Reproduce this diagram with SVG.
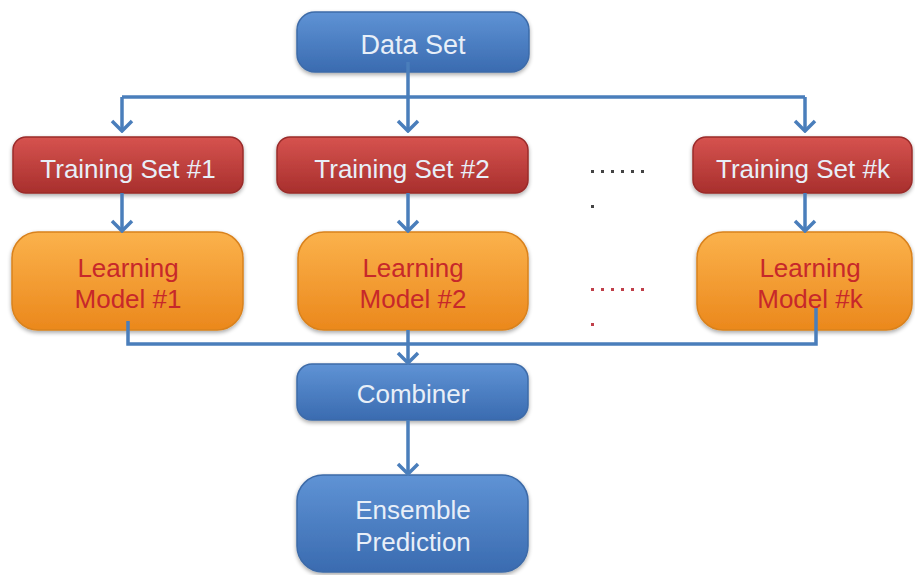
<svg xmlns="http://www.w3.org/2000/svg" width="915" height="575" viewBox="0 0 915 575">
  <defs>
    <linearGradient id="gBlue" x1="0" y1="0" x2="0" y2="1">
      <stop offset="0" stop-color="#5F93D5"/>
      <stop offset="1" stop-color="#3A6BB0"/>
    </linearGradient>
    <linearGradient id="gRed" x1="0" y1="0" x2="0" y2="1">
      <stop offset="0" stop-color="#D6534F"/>
      <stop offset="1" stop-color="#A82F2D"/>
    </linearGradient>
    <linearGradient id="gOrange" x1="0" y1="0" x2="0" y2="1">
      <stop offset="0" stop-color="#FBB24C"/>
      <stop offset="1" stop-color="#EB881C"/>
    </linearGradient>
    <filter id="shadow" x="-10%" y="-10%" width="120%" height="130%">
      <feGaussianBlur in="SourceAlpha" stdDeviation="2"/>
      <feOffset dx="0" dy="2" result="b"/>
      <feComponentTransfer><feFuncA type="linear" slope="0.35"/></feComponentTransfer>
      <feMerge><feMergeNode/><feMergeNode in="SourceGraphic"/></feMerge>
    </filter>
    <!-- open chevron head, drawn pointing along +x so orient="auto" follows the line -->
    <marker id="arrow" viewBox="0 0 14 24" refX="12" refY="12" markerWidth="14" markerHeight="24" markerUnits="userSpaceOnUse" orient="auto">
      <path d="M2 2 L12 12 L2 22" fill="none" stroke="#4A7EBB" stroke-width="3.5" stroke-linejoin="miter"/>
    </marker>
  </defs>
  <style>
    .blue { fill: url(#gBlue); stroke: #3D6BA8; stroke-width: 1.5; filter: url(#shadow); }
    .red { fill: url(#gRed); stroke: #9A2C2A; stroke-width: 1.5; filter: url(#shadow); }
    .orange { fill: url(#gOrange); stroke: #D9821E; stroke-width: 1.5; filter: url(#shadow); }
    .lbl { font-family: "Liberation Sans", Arial, sans-serif; font-size: 26px; text-anchor: middle; fill: #E8EFF8; }
    .lblr { font-family: "Liberation Sans", Arial, sans-serif; font-size: 26px; text-anchor: middle; fill: #C7282A; }
    .wire { fill: none; stroke: #4A7EBB; stroke-width: 3.5; }
    .arr { marker-end: url(#arrow); }
    .dot { fill: #444; }
    .dotr { fill: #C0404A; }
  </style>

  <rect width="915" height="575" fill="#FFFFFF"/>

  <!-- nodes -->
  <g id="data-set">
    <rect class="blue" x="297" y="12" width="232" height="60" rx="18"/>
    <text class="lbl" x="413" y="54" style="font-size:27px">Data Set</text>
  </g>

  <g id="training-set-1">
    <rect class="red" x="13" y="137" width="230" height="56" rx="13"/>
    <text class="lbl" x="128" y="178">Training Set #1</text>
  </g>
  <g id="training-set-2">
    <rect class="red" x="277" y="137" width="251" height="56" rx="13"/>
    <text class="lbl" x="402" y="178">Training Set #2</text>
  </g>
  <g id="training-set-k">
    <rect class="red" x="693" y="137" width="219" height="56" rx="13"/>
    <text class="lbl" x="803" y="178">Training Set #k</text>
  </g>

  <g id="learning-model-1">
    <rect class="orange" x="12" y="232" width="231" height="98" rx="26"/>
    <text class="lblr" x="128" y="277">Learning</text>
    <text class="lblr" x="128" y="308">Model #1</text>
  </g>
  <g id="learning-model-2">
    <rect class="orange" x="298" y="232" width="230" height="98" rx="26"/>
    <text class="lblr" x="413" y="277">Learning</text>
    <text class="lblr" x="413" y="308">Model #2</text>
  </g>
  <g id="learning-model-k">
    <rect class="orange" x="697" y="232" width="215" height="98" rx="26"/>
    <text class="lblr" x="810" y="277">Learning</text>
    <text class="lblr" x="810" y="308">Model #k</text>
  </g>

  <g id="combiner">
    <rect class="blue" x="297" y="364" width="231" height="56" rx="15"/>
    <text class="lbl" x="413" y="403">Combiner</text>
  </g>
  <g id="ensemble-prediction">
    <rect class="blue" x="297" y="475" width="231" height="97" rx="26"/>
    <text class="lbl" x="413" y="519">Ensemble</text>
    <text class="lbl" x="413" y="551">Prediction</text>
  </g>

  <!-- ellipsis between models -->
  <g id="ellipsis">
    <g class="dot">
      <rect x="591" y="170" width="3" height="3"/><rect x="601" y="170" width="3" height="3"/>
      <rect x="611" y="170" width="3" height="3"/><rect x="621" y="170" width="3" height="3"/>
      <rect x="631" y="170" width="3" height="3"/><rect x="641" y="170" width="3" height="3"/>
      <rect x="591" y="205" width="3" height="3"/>
    </g>
    <g class="dotr">
      <rect x="591" y="288" width="3" height="3"/><rect x="601" y="288" width="3" height="3"/>
      <rect x="611" y="288" width="3" height="3"/><rect x="621" y="288" width="3" height="3"/>
      <rect x="631" y="288" width="3" height="3"/><rect x="641" y="288" width="3" height="3"/>
      <rect x="591" y="323" width="3" height="3"/>
    </g>
  </g>

  <!-- connectors -->
  <g id="connectors">
    <path class="wire arr" d="M408 62 V131"/>
    <path class="wire" d="M122 97 H805"/>
    <path class="wire arr" d="M122 97 V131"/>
    <path class="wire arr" d="M805 97 V131"/>
    <path class="wire arr" d="M122 193 V231"/>
    <path class="wire arr" d="M408 193 V231"/>
    <path class="wire arr" d="M805 193 V231"/>
    <path class="wire" d="M128 321 V344 H816 V308"/>
    <path class="wire arr" d="M408 330 V363"/>
    <path class="wire arr" d="M408 420 V474"/>
  </g>
</svg>
